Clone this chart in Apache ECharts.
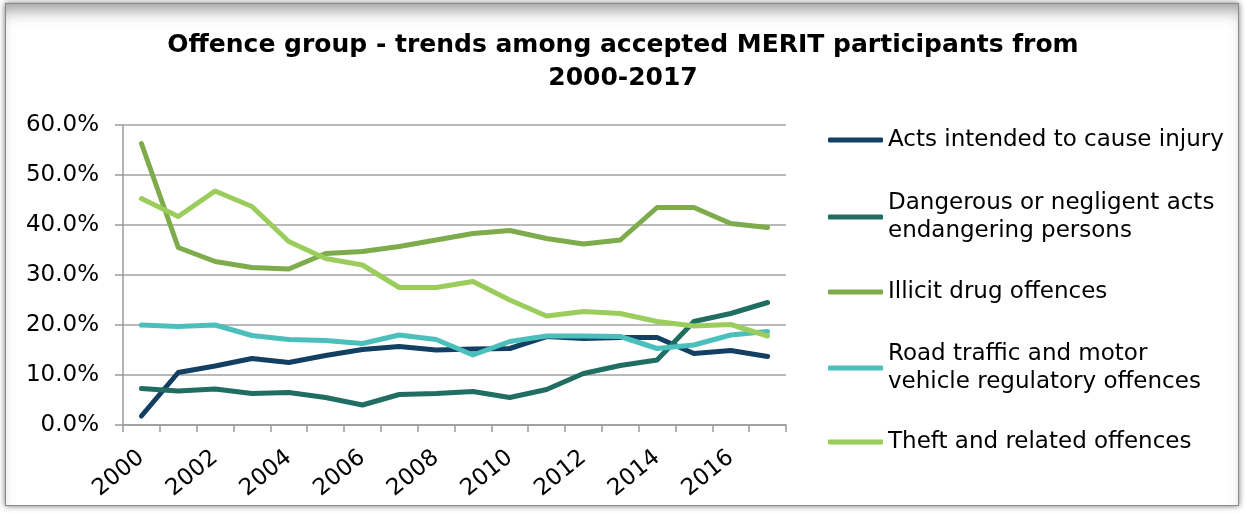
<!DOCTYPE html>
<html>
<head>
<meta charset="utf-8">
<title>Offence group trends</title>
<script src="https://cdn.jsdelivr.net/npm/echarts@6/dist/echarts.min.js"></script>
<style>
  html, body { margin: 0; padding: 0; background: #fff; }
  .frame {
    position: absolute;
    left: 5px; top: 3px;
    width: 1232px; height: 501px;
    border: 1px solid #8a8a8a;
    box-shadow: 0 0 6px rgba(0, 0, 0, 0.55), inset 0 14px 16px -8px rgba(0, 0, 0, 0.4);
    background: #fff;
  }
  #main {
    position: absolute;
    left: 0; top: 0;
    width: 1246px; height: 513px;
  }
</style>
</head>
<body>
<div class="frame"></div>
<div id="main"></div>
<script>
// categories
var years = ['2000', '2001', '2002', '2003', '2004', '2005', '2006', '2007', '2008',
             '2009', '2010', '2011', '2012', '2013', '2014', '2015', '2016', '2017']

// series values (%)
var actsInjury = [1.8, 10.5, 11.8, 13.3, 12.5, 13.9, 15.1, 15.7, 15.0, 15.2, 15.3, 17.7, 17.3, 17.5, 17.5, 14.3, 14.9, 13.7]
var dangerousActs = [7.3, 6.8, 7.2, 6.3, 6.5, 5.5, 4.0, 6.1, 6.3, 6.7, 5.5, 7.1, 10.3, 11.9, 13.0, 20.7, 22.3, 24.5]
var illicitDrug = [56.3, 35.5, 32.7, 31.5, 31.2, 34.3, 34.7, 35.7, 37.0, 38.3, 38.9, 37.3, 36.2, 37.0, 43.5, 43.5, 40.3, 39.5]
var roadTraffic = [20.0, 19.7, 20.0, 17.9, 17.1, 16.9, 16.3, 18.0, 17.1, 14.0, 16.7, 17.8, 17.8, 17.7, 15.3, 16.0, 18.0, 18.7]
var theft = [45.3, 41.7, 46.8, 43.7, 36.7, 33.3, 32.0, 27.5, 27.5, 28.7, 25.0, 21.8, 22.7, 22.3, 20.7, 19.8, 20.1, 17.8]

// names and colours
var seriesNames = [
  'Acts intended to cause injury',
  'Dangerous or negligent acts endangering persons',
  'Illicit drug offences',
  'Road traffic and motor vehicle regulatory offences',
  'Theft and related offences'
]
var seriesData = [actsInjury, dangerousActs, illicitDrug, roadTraffic, theft]
var colors = ['#133f63', '#1f6e61', '#7eab4c', '#4bbfbb', '#9bcd5c']

// legend labels as they wrap in the picture
var legendLabels = [
  'Acts intended to cause injury',
  'Dangerous or negligent acts\nendangering persons',
  'Illicit drug offences',
  'Road traffic and motor\nvehicle regulatory offences',
  'Theft and related offences'
]
var legendTops = [126, 175, 278, 326, 428]

var font = '"DejaVu Sans", "Liberation Sans", Arial, sans-serif'

var myChart = echarts.init(document.getElementById('main'))

// one legend per item so each can sit where the picture has it
var legends = seriesNames.map(function (name, i) {
  var twoLines = legendLabels[i].indexOf('\n') >= 0
  return {
    data: [name],
    left: 828,
    top: legendTops[i],
    padding: 0,
    icon: 'roundRect',
    itemWidth: 55,
    itemHeight: 5,
    selectedMode: false,
    formatter: function () { return legendLabels[i] },
    textStyle: {
      fontFamily: font,
      fontSize: 23,
      color: '#000',
      lineHeight: 28,
      padding: twoLines ? [28, 0, 0, 0] : 0
    }
  }
})

var option = {
  animation: false,
  title: {
    text: 'Offence group - trends among accepted MERIT participants from\n2000-2017',
    left: 'center',
    top: 24,
    padding: [5, 0, 5, 16],
    textStyle: {
      fontFamily: font,
      fontSize: 25,
      fontWeight: 'bold',
      color: '#000',
      lineHeight: 33
    }
  },
  legend: legends,
  grid: {
    left: 123,
    right: 460,
    top: 125,
    bottom: 88,
    containLabel: false
  },
  xAxis: {
    type: 'category',
    data: years,
    boundaryGap: true,
    axisLine: { show: true, lineStyle: { color: '#9a9a9a', width: 1.5 } },
    axisTick: { show: true, interval: 0, length: 7, lineStyle: { color: '#9a9a9a', width: 1.5 } },
    axisLabel: {
      interval: 1,
      rotate: 39,
      margin: 30,
      fontFamily: font,
      fontSize: 23,
      color: '#000'
    },
    splitLine: { show: false }
  },
  yAxis: {
    type: 'value',
    min: 0,
    max: 60,
    interval: 10,
    axisLine: { show: true, lineStyle: { color: '#9a9a9a', width: 1.5 } },
    axisTick: { show: true, length: 8, lineStyle: { color: '#9a9a9a', width: 1.5 } },
    axisLabel: {
      margin: 24,
      fontFamily: font,
      fontSize: 23,
      color: '#000',
      formatter: function (v) { return v.toFixed(1) + '%' }
    },
    splitLine: { show: true, lineStyle: { color: '#a3a3a3', width: 1.5 } }
  },
  series: seriesNames.map(function (name, i) {
    return {
      name: name,
      type: 'line',
      data: seriesData[i],
      symbol: 'none',
      showSymbol: false,
      itemStyle: { color: colors[i] },
      lineStyle: { color: colors[i], width: 5, cap: 'round', join: 'round' }
    }
  })
}

myChart.setOption(option)
</script>
</body>
</html>
